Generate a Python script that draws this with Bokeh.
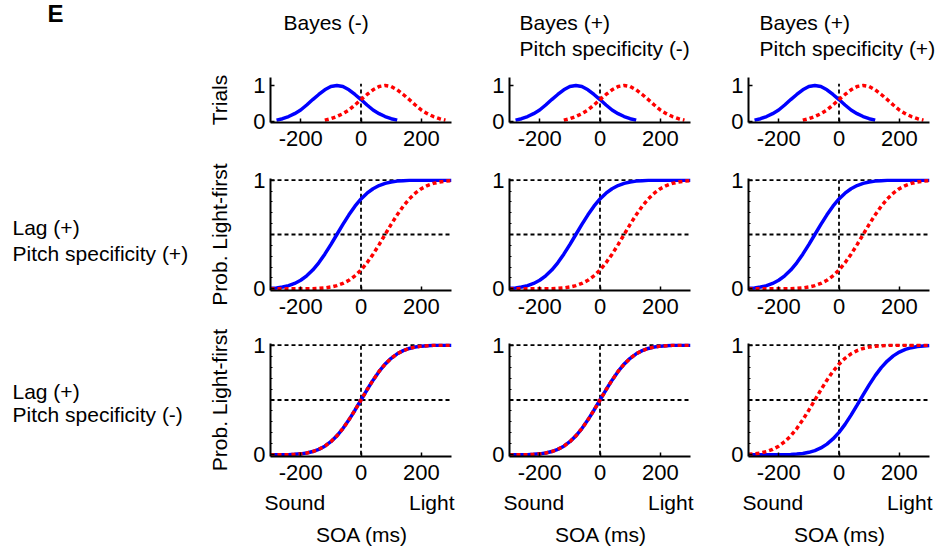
from bokeh.plotting import figure
from bokeh.models import Range1d, FixedTicker, Spacer
from bokeh.layouts import column, row
from bokeh.core.properties import value
from bokeh.embed import file_html
from bokeh.resources import INLINE

FONT = "Liberation Sans"

# ---------------- texts ----------------
panel_tag = "E"
col_titles = [["Bayes (-)"],
              ["Bayes (+)", "Pitch specificity (-)"],
              ["Bayes (+)", "Pitch specificity (+)"]]
row_labels = [["Lag (+)", "Pitch specificity (+)"],
              ["Lag (+)", "Pitch specificity (-)"]]
trials_ylabel = "Trials"
prob_ylabel = "Prob. Light-first"
soa_label = "SOA (ms)"
end_labels = ["Sound", "Light"]

# ---------------- ticks / guides ----------------
x_ticks = [-200, 0, 200]
x_tick_labels = ["-200", "0", "200"]
y_ticks = [0, 1]
y_tick_labels = ["0", "1"]
y_minor_ticks = [0.1, 0.2, 0.3, 0.4, 0.5, 0.6, 0.7, 0.8, 0.9]
soa_onset = [0]
ref_levels = [0.5, 1.0]
trials_onset_top = [1.05]

# ---------------- data ----------------
# Trial distributions (top row, identical in all three columns)
trials_x_blue = [-280, -260, -240, -220, -200, -180, -160, -140, -120, -100, -80,
                 -60, -40, -20, 0, 20, 40, 60, 80, 100, 120]
trials_blue = [0.04, 0.08, 0.14, 0.22, 0.32, 0.46, 0.61, 0.75, 0.88, 0.97, 1.0,
               0.97, 0.88, 0.75, 0.61, 0.46, 0.32, 0.22, 0.14, 0.08, 0.04]
trials_x_red = [-120, -100, -80, -60, -40, -20, 0, 20, 40, 60, 80,
                100, 120, 140, 160, 180, 200, 220, 240, 260, 280]
trials_red = [0.04, 0.08, 0.14, 0.22, 0.32, 0.46, 0.61, 0.75, 0.88, 0.97, 1.0,
              0.97, 0.88, 0.75, 0.61, 0.46, 0.32, 0.22, 0.14, 0.08, 0.04]

# SOA grid for psychometric curves
soa = [-300, -280, -260, -240, -220, -200, -180, -160, -140, -120, -100,
       -80, -60, -40, -20, 0, 20, 40, 60, 80, 100,
       120, 140, 160, 180, 200, 220, 240, 260, 280, 300]

# Row 2 (Lag +, Pitch specificity +): all three columns
r2_blue = [0.005, 0.009, 0.017, 0.030, 0.050, 0.079, 0.120, 0.173, 0.240, 0.319, 0.407,
           0.5, 0.593, 0.681, 0.760, 0.827, 0.880, 0.921, 0.950, 0.970, 0.983,
           0.991, 0.995, 0.998, 0.999, 1.0, 1.0, 1.0, 1.0, 1.0, 1.0]
r2_red = [0.0, 0.0, 0.0, 0.0, 0.0, 0.0, 0.001, 0.002, 0.005, 0.009, 0.017,
          0.030, 0.050, 0.079, 0.120, 0.173, 0.240, 0.319, 0.407, 0.5, 0.593,
          0.681, 0.760, 0.827, 0.880, 0.921, 0.950, 0.970, 0.983, 0.991, 0.995]

# Row 3 (Lag +, Pitch specificity -): columns 1 and 2 (blue and red coincide)
r3_blue = [0.0, 0.0, 0.001, 0.002, 0.005, 0.009, 0.017, 0.030, 0.050, 0.079, 0.120,
           0.173, 0.240, 0.319, 0.407, 0.5, 0.593, 0.681, 0.760, 0.827, 0.880,
           0.921, 0.950, 0.970, 0.983, 0.991, 0.995, 0.998, 0.999, 1.0, 1.0]
r3_red = [0.0, 0.0, 0.001, 0.002, 0.005, 0.009, 0.017, 0.030, 0.050, 0.079, 0.120,
          0.173, 0.240, 0.319, 0.407, 0.5, 0.593, 0.681, 0.760, 0.827, 0.880,
          0.921, 0.950, 0.970, 0.983, 0.991, 0.995, 0.998, 0.999, 1.0, 1.0]

# Row 3, column 3 (Bayes +, Pitch specificity +)
r3c3_blue = [0.0, 0.0, 0.0, 0.0, 0.0, 0.001, 0.002, 0.003, 0.007, 0.013, 0.023,
             0.039, 0.063, 0.098, 0.145, 0.205, 0.278, 0.362, 0.453, 0.547, 0.638,
             0.722, 0.795, 0.855, 0.902, 0.937, 0.961, 0.977, 0.987, 0.993, 0.997]
r3c3_red = [0.005, 0.009, 0.017, 0.030, 0.050, 0.079, 0.120, 0.173, 0.240, 0.319, 0.407,
            0.5, 0.593, 0.681, 0.760, 0.827, 0.880, 0.921, 0.950, 0.970, 0.983,
            0.991, 0.995, 0.998, 0.999, 1.0, 1.0, 1.0, 1.0, 1.0, 1.0]

# ---------------- layout constants ----------------
BLUE = "#0000ff"
RED = "#ff0000"
LABEL_W = 200
COL_W = [261, 239, 244]
COL_LEFT = [70, 48, 48]
COL_RIGHT = [10, 10, 15]
FRAME_W = 181
FRAME_LEFTS = [270, 509, 748]
ROW_H = [98, 166, 164]
ROW_TOP = [15, 18, 17]
ROW_BOTTOM = [38, 36, 34]
HEADER_H = 62
FOOTER_H = 58
TXT = "21px"
TICK_TXT = "22px"
GUIDE_W = 1.8


def text_fig(w, h, top=0, bottom=0):
    # frame spans from `top` to h-bottom px; data y = px offset from figure top
    f = figure(width=w, height=h, x_range=Range1d(0, w),
               y_range=Range1d(h - bottom, top),
               x_axis_type=None, y_axis_type=None, output_backend="svg",
               toolbar_location=None, min_border=0,
               min_border_top=top, min_border_bottom=bottom)
    f.outline_line_color = None
    f.xgrid.visible = False
    f.ygrid.visible = False
    return f


def add_text(f, xs, ys, texts, size=TXT, align="left", style="normal"):
    f.text(x=xs, y=ys, text=texts, text_font=value(FONT), text_font_size=size,
           text_align=align, text_baseline="middle", text_color="black",
           text_font_style=style)


def panel(r, c):
    if r == 0:
        yr = Range1d(-0.025, 1.22)
    else:
        yr = Range1d(-0.015, 1.015)
    p = figure(width=COL_W[c], height=ROW_H[r], x_range=Range1d(-300, 300), y_range=yr,
               output_backend="svg", toolbar_location=None,
               min_border_left=COL_LEFT[c], min_border_right=COL_RIGHT[c],
               min_border_top=ROW_TOP[r], min_border_bottom=ROW_BOTTOM[r])
    p.outline_line_color = None
    p.xgrid.visible = False
    p.ygrid.visible = False
    p.background_fill_color = "white"
    p.border_fill_color = "white"

    for ax in (p.xaxis[0], p.yaxis[0]):
        ax.axis_line_width = 2
        ax.axis_line_color = "black"
        ax.major_tick_line_width = 1.5
        ax.major_tick_line_color = "black"
        ax.major_tick_in = 4
        ax.major_tick_out = 0
        ax.minor_tick_in = 2
        ax.minor_tick_out = 0
        ax.minor_tick_line_color = "black"
        ax.minor_tick_line_width = 1
        ax.major_label_text_font = FONT
        ax.major_label_text_font_size = TICK_TXT
        ax.major_label_text_color = "black"
        ax.axis_label_text_font = FONT
        ax.axis_label_text_font_size = TXT
        ax.axis_label_text_font_style = "normal"
        ax.axis_label_text_color = "black"

    p.xaxis.ticker = FixedTicker(ticks=x_ticks)
    p.xaxis.major_label_overrides = {t: l for t, l in zip(x_ticks, x_tick_labels)}
    p.xaxis.major_label_standoff = 8
    p.xaxis.minor_tick_in = 0

    if r == 0:
        p.yaxis.ticker = FixedTicker(ticks=y_ticks)
    else:
        p.yaxis.ticker = FixedTicker(ticks=y_ticks, minor_ticks=y_minor_ticks)
    p.yaxis.major_label_overrides = {t: l for t, l in zip(y_ticks, y_tick_labels)}
    p.yaxis.major_label_standoff = 5
    if c == 0:
        p.yaxis.axis_label = trials_ylabel if r == 0 else prob_ylabel
        p.yaxis.axis_label_standoff = 19

    dash = "4 3"
    if r == 0:
        p.segment(x0=soa_onset, y0=[0], x1=soa_onset, y1=trials_onset_top,
                  line_color="black", line_width=GUIDE_W, line_dash=dash)
        p.line(trials_x_blue, trials_blue, line_color=BLUE, line_width=3.5)
        p.line(trials_x_red, trials_red, line_color=RED, line_width=3.5, line_dash=dash)
        return p

    # guide lines
    n = len(ref_levels)
    p.segment(x0=[soa[0]] * n, y0=ref_levels, x1=[soa[-1]] * n, y1=ref_levels,
              line_color="black", line_width=GUIDE_W, line_dash=dash)
    p.segment(x0=soa_onset, y0=[0], x1=soa_onset, y1=[ref_levels[-1]],
              line_color="black", line_width=GUIDE_W, line_dash=dash)

    if r == 1:
        yb, yrd = r2_blue, r2_red
    elif c < 2:
        yb, yrd = r3_blue, r3_red
    else:
        yb, yrd = r3c3_blue, r3c3_red
    p.line(soa, yb, line_color=BLUE, line_width=3.5)
    p.line(soa, yrd, line_color=RED, line_width=3.5, line_dash=dash)
    return p


# header (text y = visual centre of capitals, in pixels from the top)
header = text_fig(944, HEADER_H)
add_text(header, [47], [12.5], [panel_tag], size="24px", style="bold")
title_x = [283, 519, 759]
title_mid = [22, 48]
hx, hy, ht = [], [], []
for c, lines in enumerate(col_titles):
    for i, t in enumerate(lines):
        hx.append(title_x[c])
        hy.append(title_mid[i])
        ht.append(t)
add_text(header, hx, hy, ht)

rows = []
for r in range(3):
    if r == 0:
        lab = Spacer(width=LABEL_W, height=ROW_H[r])
    else:
        # the row aligns this figure's frame with the panels' frames
        lab = text_fig(LABEL_W, ROW_H[r], top=ROW_TOP[r], bottom=ROW_BOTTOM[r])
        mids = [67, 93.4] if r == 1 else [64.5, 88.4]
        add_text(lab, [12, 12], mids, row_labels[r - 1])
    rows.append(row(lab, *[panel(r, c) for c in range(3)]))

footer = text_fig(944, FOOTER_H)
sx = [fl - 6 for fl in FRAME_LEFTS]
lx = [fl + FRAME_W + 3 for fl in FRAME_LEFTS]
cx = [fl + FRAME_W / 2 + 1 for fl in FRAME_LEFTS]
add_text(footer, sx, [11.5] * 3, [end_labels[0]] * 3, align="left")
add_text(footer, lx, [11.5] * 3, [end_labels[1]] * 3, align="right")
add_text(footer, cx, [44] * 3, [soa_label] * 3, align="center")

layout = column(header, *rows, footer)

open("out.html", "w").write(file_html(layout, INLINE))
